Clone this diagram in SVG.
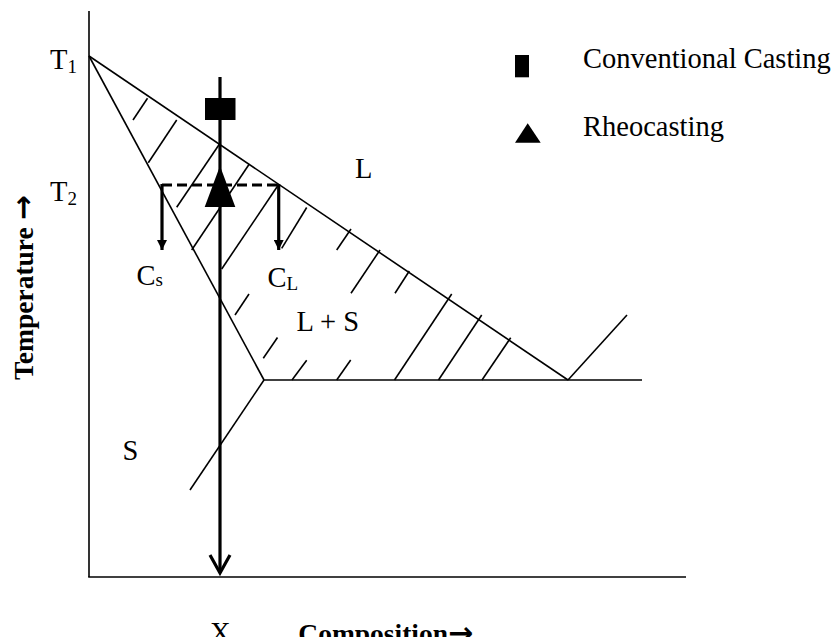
<svg xmlns="http://www.w3.org/2000/svg" width="837" height="637" viewBox="0 0 837 637">
<style>
.ln{stroke:#000;stroke-width:1.6;fill:none;stroke-linecap:butt}
.th{stroke:#000;stroke-width:3.2;fill:none}
.t{font-family:"Liberation Serif","Times New Roman",serif;font-size:28.5px;fill:#000}
.sub{font-size:19px}
.b{font-family:"Liberation Serif","Times New Roman",serif;font-size:27.5px;font-weight:bold;fill:#000}
.ar{font-family:"DejaVu Sans",sans-serif;font-weight:bold;font-size:30px}
</style>
<defs>
<marker id="ah" viewBox="0 0 10 10" refX="10" refY="5" markerWidth="10" markerHeight="10" markerUnits="userSpaceOnUse" orient="auto"><path d="M0,0 L10,5 L0,10 z" fill="#000"/></marker>
</defs>
<g id="axes">
<line class="ln" x1="89" y1="11" x2="89" y2="577"/>
<line class="ln" x1="88.2" y1="577" x2="686" y2="577"/>
</g>
<g id="phase-lines">
<line class="ln" x1="89" y1="56" x2="568" y2="380"/>
<line class="ln" x1="89" y1="56" x2="264" y2="380"/>
<line class="ln" x1="264" y1="380" x2="642" y2="380"/>
<line class="ln" x1="264" y1="380" x2="190" y2="490"/>
<line class="ln" x1="568" y1="380" x2="627" y2="315"/>
</g>
<g id="hatching">
<line class="ln" x1="133" y1="120" x2="147.5" y2="98.3"/>
<line class="ln" x1="148.3" y1="162.7" x2="176.7" y2="120"/>
<line class="ln" x1="176.7" y1="207.3" x2="220" y2="143.3"/>
<line class="ln" x1="191.7" y1="250" x2="249.3" y2="164"/>
<line class="ln" x1="221.7" y1="269" x2="278.3" y2="185"/>
<line class="ln" x1="281.7" y1="248.3" x2="306.7" y2="207.5"/>
<line class="ln" x1="235" y1="315" x2="249" y2="294"/>
<line class="ln" x1="263.3" y1="358.3" x2="277.5" y2="337.5"/>
<line class="ln" x1="292" y1="380" x2="306.7" y2="360.3"/>
<line class="ln" x1="336.7" y1="380" x2="350.7" y2="360"/>
<line class="ln" x1="336.7" y1="250" x2="351" y2="229"/>
<line class="ln" x1="351" y1="293.3" x2="380" y2="250"/>
<line class="ln" x1="395" y1="293.3" x2="409.3" y2="271"/>
<line class="ln" x1="394.5" y1="380" x2="451.7" y2="294"/>
<line class="ln" x1="438.5" y1="380" x2="481.7" y2="315"/>
<line class="ln" x1="482" y1="380" x2="510.7" y2="337.7"/>
</g>
<g id="tie-line">
<line x1="162" y1="185" x2="279" y2="185" stroke="#000" stroke-width="3.2" stroke-dasharray="10,5"/>
</g>
<g id="connectors">
<line class="th" x1="162" y1="184" x2="162" y2="250" marker-end="url(#ah)"/>
<line class="th" x1="278.7" y1="184" x2="278.7" y2="250" marker-end="url(#ah)"/>
<line class="th" x1="220" y1="77" x2="220" y2="573"/>
<polyline class="th" points="210,555 220,573 230,555"/>
</g>
<g id="markers">
<rect x="205" y="98" width="30.5" height="22" fill="#000"/>
<polygon points="220,166 204.7,207 235.3,207" fill="#000"/>
</g>
<g id="legend">
<rect x="515" y="55" width="14" height="22.3" fill="#000"/>
<polygon points="527.7,123.3 515,142.7 540.7,142.7" fill="#000"/>
<text class="t" x="583" y="67.5">Conventional Casting</text>
<text class="t" x="583" y="136">Rheocasting</text>
</g>
<g id="labels">
<text class="t" x="50" y="69">T<tspan class="sub" dy="4">1</tspan></text>
<text class="t" x="50" y="201">T<tspan class="sub" dy="4">2</tspan></text>
<text class="t" x="355" y="178">L</text>
<text class="t" x="136.5" y="285">C<tspan class="sub" dy="1">s</tspan></text>
<text class="t" x="267.5" y="286.7">C<tspan class="sub" dy="3">L</tspan></text>
<text class="t" x="296.5" y="330.7">L + S</text>
<text class="t" x="122.5" y="460">S</text>
<text class="t" x="210" y="642">X</text>
<text class="b" x="298.3" y="643">Composition<tspan class="ar">→</tspan></text>
<text class="b" transform="translate(32.5,380) rotate(-90)">Temperature <tspan class="ar">→</tspan></text>
</g>
</svg>
